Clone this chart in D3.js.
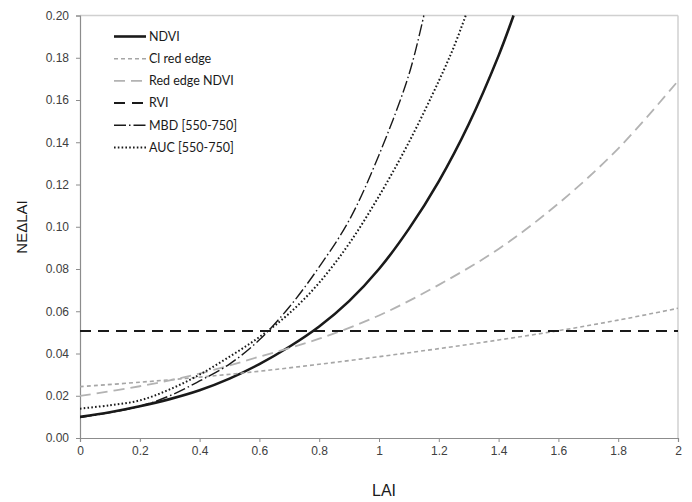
<!DOCTYPE html>
<html><head><meta charset="utf-8">
<script src="https://cdn.jsdelivr.net/npm/d3@7"></script>
<style>body{margin:0;background:#fff}svg{display:block}</style>
</head><body><svg id="c" width="692" height="502"></svg>
<script>
// ---- data ----
const xTicks = [0,0.2,0.4,0.6,0.8,1,1.2,1.4,1.6,1.8,2];
const xTickLabels = ["0","0.2","0.4","0.6","0.8","1","1.2","1.4","1.6","1.8","2"];
const yTicks = [0,0.02,0.04,0.06,0.08,0.10,0.12,0.14,0.16,0.18,0.20];
const yTickLabels = ["0.00","0.02","0.04","0.06","0.08","0.10","0.12","0.14","0.16","0.18","0.20"];

const legendLabels = ["NDVI","Cl red edge","Red edge NDVI","RVI","MBD [550-750]","AUC [550-750]"];

const ndviLAI = [0,0.1,0.2,0.3,0.4,0.5,0.6,0.7,0.8,0.9,1.0,1.1,1.2,1.3,1.4,1.45];
const ndviVal = [0.0100,0.0122,0.0150,0.0184,0.0226,0.0281,0.0350,0.0432,0.0528,0.0648,0.0800,0.0990,0.1215,0.1485,0.1810,0.2000];

const ciLAI = [0,0.2,0.4,0.6,0.8,1.0,1.2,1.4,1.6,1.8,2.0];
const ciVal = [0.0243,0.0264,0.0288,0.0316,0.0349,0.0385,0.0423,0.0464,0.0508,0.0558,0.0614];

const reLAI = [0,0.2,0.4,0.6,0.8,1.0,1.2,1.4,1.6,1.8,2.0];
const reVal = [0.0199,0.0245,0.0305,0.0385,0.0470,0.0580,0.0725,0.0895,0.1110,0.1370,0.1690];

const rviLAI = [0,2];
const rviVal = [0.0507,0.0507];

const mbdLAI = [0,0.1,0.2,0.3,0.4,0.5,0.6,0.7,0.8,0.9,1.0,1.1,1.15];
const mbdVal = [0.0097,0.0120,0.0150,0.0200,0.0270,0.0350,0.0465,0.0620,0.0810,0.1030,0.1340,0.1720,0.2000];

const aucLAI = [0,0.1,0.2,0.3,0.4,0.5,0.6,0.7,0.8,0.9,1.0,1.1,1.2,1.25,1.29];
const aucVal = [0.0139,0.0155,0.0178,0.0230,0.0300,0.0385,0.0478,0.0590,0.0735,0.0920,0.1145,0.1400,0.1690,0.1850,0.2000];

// ---- layout ----
const svg = d3.select("#c");
const L = 80, R = 678, T = 15.5, B = 438;
const x = d3.scaleLinear().domain([0,2]).range([L,R]);
const y = d3.scaleLinear().domain([0,0.2]).range([B,T]);

const styles = [
  {stroke:"#1a1a1a", width:2.6, dash:null},
  {stroke:"#a6a6a6", width:1.6, dash:"4,3"},
  {stroke:"#b3b3b3", width:1.8, dash:"11,6"},
  {stroke:"#1a1a1a", width:2.0, dash:"11,7"},
  {stroke:"#1a1a1a", width:1.4, dash:"12,3,1.5,3"},
  {stroke:"#1a1a1a", width:2.0, dash:"1.6,2.2"}
];
const data = [
  [ndviLAI,ndviVal],[ciLAI,ciVal],[reLAI,reVal],[rviLAI,rviVal],[mbdLAI,mbdVal],[aucLAI,aucVal]
];

// frame
svg.append("line").attr("x1",L).attr("x2",R).attr("y1",T).attr("y2",T).attr("stroke","#d0d0d0").attr("stroke-width",1.5);
svg.append("line").attr("x1",R).attr("x2",R).attr("y1",T).attr("y2",B).attr("stroke","#d0d0d0").attr("stroke-width",1.5);

// axes
const fontTick = "'Liberation Sans', Arial, sans-serif";
const gy = svg.append("g").attr("transform",`translate(${L},0)`)
  .call(d3.axisLeft(y).tickValues(yTicks).tickFormat((d,i)=>yTickLabels[i]).tickSize(4).tickPadding(7));
const gx = svg.append("g").attr("transform",`translate(0,${B})`)
  .call(d3.axisBottom(x).tickValues(xTicks).tickFormat((d,i)=>xTickLabels[i]).tickSize(4).tickPadding(4));
[gx,gy].forEach(g=>{
  g.select(".domain").attr("stroke","#8c8c8c").attr("stroke-width",1.2);
  g.selectAll(".tick line").attr("stroke","#8c8c8c");
  g.selectAll(".tick text").attr("fill","#404040").style("font-family",fontTick).style("font-size","12px");
});

// clip
svg.append("clipPath").attr("id","clip").append("rect").attr("x",L).attr("y",T-1).attr("width",R-L).attr("height",B-T+1);

const line = d3.line().x(d=>x(d[0])).y(d=>y(d[1])).curve(d3.curveCatmullRom.alpha(0.5));
const plot = svg.append("g").attr("clip-path","url(#clip)");
data.forEach((s,i)=>{
  const pts = s[0].map((l,j)=>[l,s[1][j]]);
  const st = styles[i];
  plot.append("path").datum(pts).attr("d",line).attr("fill","none")
    .attr("stroke",st.stroke).attr("stroke-width",st.width)
    .attr("stroke-dasharray",st.dash).attr("stroke-linecap","butt");
});

// legend
const lg = svg.append("g");
legendLabels.forEach((name,i)=>{
  const yy = 36.5 + i*22.2;
  const st = styles[i];
  lg.append("line").attr("x1",114).attr("x2",146).attr("y1",yy).attr("y2",yy)
    .attr("stroke",st.stroke).attr("stroke-width",st.width).attr("stroke-dasharray",st.dash);
  lg.append("text").attr("x",149).attr("y",yy).attr("dy","0.35em")
    .style("font-family","Lato, 'Open Sans', sans-serif").style("font-size","12.5px").attr("fill","#1a1a1a").text(name);
});

// axis titles
svg.append("text").attr("x",384).attr("y",496).attr("text-anchor","middle")
  .style("font-family",fontTick).style("font-size","16px").attr("fill","#1a1a1a").text("LAI");
svg.append("text").attr("transform","translate(27,227) rotate(-90)").attr("text-anchor","middle")
  .style("font-family",fontTick).style("font-size","15px").attr("fill","#1a1a1a").text("NEΔLAI");
</script></body></html>
